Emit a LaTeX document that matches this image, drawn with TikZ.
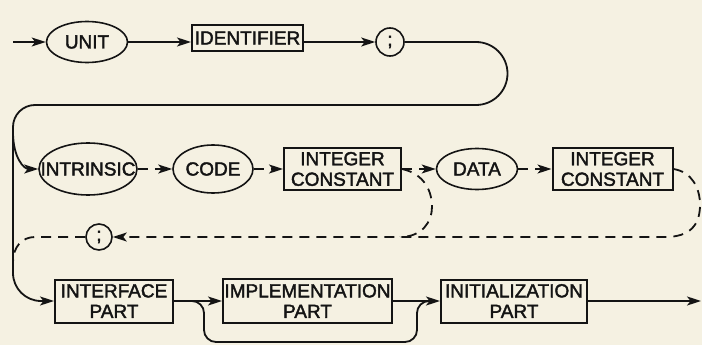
\documentclass[tikz,border=0pt]{standalone}
\usepackage{fontspec}
\setmainfont{Liberation Sans}
\newfontfamily\dfont{Liberation Sans}[FakeBold=2]
\usetikzlibrary{shapes.geometric,arrows.meta}
\definecolor{paper}{RGB}{245,241,226}
\definecolor{ink}{RGB}{20,20,20}
\newcommand{\zt}[1]{\makebox[0pt]{#1}}
\begin{document}
\begin{tikzpicture}[x=1pt,y=-1pt,
  every node/.style={font=\dfont\fontsize{19}{20.5}\selectfont, text=ink},
  oval/.style={ellipse, draw=ink, line width=1.6pt, inner sep=0pt},
  sbox/.style={rectangle, draw=ink, line width=2pt, inner sep=0pt, align=center},
  semi/.style={circle, draw=ink, line width=1.6pt, inner sep=0pt, minimum size=28pt},
  conn/.style={draw=ink, line width=1.8pt},
  arr/.style={-{Stealth[length=14pt,width=9pt,inset=3.5pt]}},
  dsh/.style={dash pattern=on 10pt off 7pt}]
\fill[paper] (0,0) rectangle (702,345);
\useasboundingbox (0,0) rectangle (702,345);
% nodes
\node[oval, minimum width=81pt, minimum height=41pt] (unit) at (87,42) {\zt{UNIT}};
\node[sbox, minimum width=111pt, minimum height=26pt] (ident) at (247.5,38) {IDENTIFIER};
\node[semi] (semi1) at (390,42) {;};
\node[oval, minimum width=98pt, minimum height=52pt] (intr) at (88,169) {\zt{INTRINSIC}};
\node[oval, minimum width=80pt, minimum height=48pt] (code) at (213,169) {\zt{CODE}};
\node[sbox, minimum width=117pt, minimum height=42pt] (int1) at (342.5,169) {INTEGER\\CONSTANT};
\node[oval, minimum width=81pt, minimum height=41pt] (data) at (477,169) {\zt{DATA}};
\node[sbox, minimum width=120pt, minimum height=42pt] (int2) at (612.5,169) {INTEGER\\CONSTANT};
\node[semi, minimum size=26pt] (semi2) at (99,237) {;};
\node[sbox, minimum width=118pt, minimum height=43pt] (iface) at (114,301) {INTERFACE\\PART};
\node[sbox, minimum width=169pt, minimum height=44pt] (impl) at (307.5,301) {IMPLEMENTATION\\PART};
\node[sbox, minimum width=146pt, minimum height=43pt] (init) at (514,301) {INITIALIZATION\\PART};
\coordinate (start) at (13,42);
\coordinate (out) at (701,301);
\coordinate (br1) at (13,132);
\coordinate (byA) at (188,301);
\coordinate (byB) at (432,301);
% row 1
\draw[conn,arr] (start) -- (unit.west);
\draw[conn,arr] (unit.east) -- (unit.east -| ident.west);
\draw[conn,arr] (unit.east -| ident.east) -- (semi1.west);
\draw[conn,arr] (semi1.east) -- (476,42) arc[start angle=-90, end angle=90, radius=31.5]
  -- (35,105) arc[start angle=-90, end angle=-180, radius=22]
  -- (13,273) arc[start angle=180, end angle=90, radius=28] -- (iface.west);
% row 2
\draw[conn,arr] (br1) .. controls (13,158) and (24,169) .. (intr.west);
\draw[conn,dsh,arr] (intr.east) -- (code.west);
\draw[conn,dsh,arr] (code.east) -- (int1.west);
\draw[conn,dsh,arr] (int1.east) -- (data.west);
\draw[conn,dsh,arr] (data.east) -- (int2.west);
\draw[conn,dsh,arr] (int2.east) .. controls (692,172) and (700,188) .. (700,205)
  .. controls (700,225) and (690,237) .. (665,237) -- (semi2.east);
\draw[conn,dsh] (int1.east) .. controls (425,174) and (432,192) .. (432,207)
  .. controls (432,222) and (422,237) .. (400,237);
\draw[conn,dsh] (semi2.west) -- (35,237) .. controls (22,237) and (13,247) .. (13,262);
% row 3
\draw[conn,arr] (iface.east) -- (impl.west);
\draw[conn,arr] (impl.east) -- (init.west);
\draw[conn,arr] (init.east) -- (out);
\draw[conn,rounded corners=12pt] (byA) -- (204,301) -- (204,342) -- (417,342) -- (417,301) -- (byB);
\end{tikzpicture}
\end{document}
